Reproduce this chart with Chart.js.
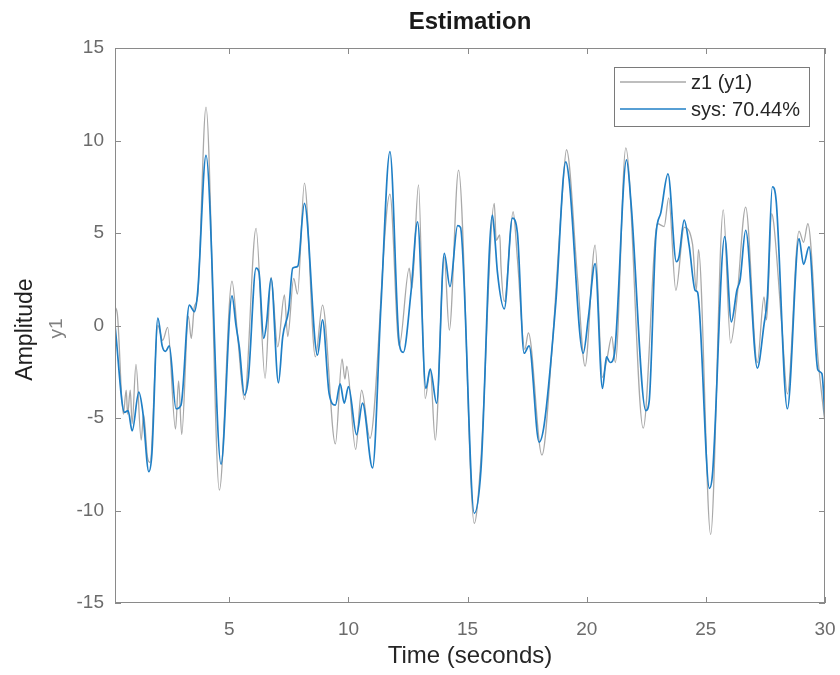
<!DOCTYPE html>
<html>
<head>
<meta charset="utf-8">
<script src="https://cdn.jsdelivr.net/npm/chart.js@4.4.1/dist/chart.umd.min.js"></script>
<style>
    html, body { margin: 0; padding: 0; background: #ffffff; }
    canvas { display: block; }
</style>
</head>
<body>
<canvas id="estChart" width="840" height="675"></canvas>
<script>
/* ==================================================
   Estimation — 測定出力 vs モデル出力
   ================================================== */

// 測定データ z1 (y1)
const zTime = [0.2, 0.3, 0.55, 0.67, 0.73, 0.84, 0.92, 1.08, 1.3, 1.4, 1.56, 1.67, 2.0, 2.2, 2.41, 2.74, 2.87, 3.0, 3.28, 3.4,
    3.53, 3.67, 4.02, 4.58, 5.11, 5.35, 5.63, 6.12, 6.5, 6.75, 7.03, 7.31, 7.45, 7.7, 7.86, 8.15, 8.61, 8.91, 9.45, 9.73,
    9.85, 9.93, 10.3, 10.55, 10.9, 11.74, 12.13, 12.55, 12.66, 12.94, 13.22, 13.43, 13.64, 14.02, 14.23, 14.62, 15.28, 15.56, 16.12, 16.2,
    16.35, 16.4, 16.54, 16.91, 17.09, 17.4, 17.55, 18.12, 18.53, 18.98, 19.15, 19.61, 19.93, 20.35, 20.66, 20.85, 21.05, 21.2, 21.64, 22.37,
    22.97, 23.25, 23.44, 23.74, 24.09, 24.44, 24.6, 24.69, 25.2, 25.73, 26.04, 26.3, 26.67, 27.16, 27.44, 27.55, 27.76, 27.85, 28.2, 28.42,
    28.91, 29.1, 29.28, 29.7, 30.0];
const zValue = [1.0, 0.6, -4.8, -3.5, -4.8, -3.5, -5.3, -2.1, -6.2, -4.8, -7.1, -7.4, 0.0, -0.8, -0.1, -5.6, -3.0, -5.9, 0.5, -0.7,
    1.0, 1.6, 11.8, -8.9, 2.4, -0.6, -4.0, 5.25, -2.85, 2.6, -1.15, 1.65, -0.6, 2.55, 1.7, 7.7, -1.7, 1.1, -6.4, -1.8,
    -2.9, -2.2, -6.7, -3.5, -6.1, 7.1, -1.1, 3.1, 2.0, 7.6, -3.95, -2.35, -6.2, 3.7, -0.25, 8.4, -10.7, -7.2, 6.6, 4.6,
    4.9, 3.2, 1.3, 6.15, 3.6, -1.3, -0.4, -7.0, -1.5, 7.2, 9.5, 2.6, -2.2, 4.35, -2.8, -1.8, -0.6, -2.0, 9.6, -5.55,
    5.5, 5.35, 6.9, 1.9, 5.3, 4.4, 1.9, 4.1, -11.3, 6.25, -0.95, 1.4, 6.4, -2.0, 1.55, 0.3, 6.05, 5.5, -0.25, -3.7,
    5.1, 4.5, 5.5, -1.7, -5.3];

// モデル出力 sys
const sysTime = [0.2, 0.6, 0.75, 0.92, 1.2, 1.36, 1.62, 1.75, 2.0, 2.18, 2.32, 2.48, 2.76, 2.97, 3.32, 3.53, 3.67, 4.02, 4.65, 5.11,
    5.28, 5.42, 5.63, 5.8, 6.12, 6.24, 6.44, 6.56, 6.75, 7.06, 7.24, 7.49, 7.66, 7.87, 8.15, 8.7, 8.91, 9.19, 9.45, 9.65,
    9.82, 10.0, 10.34, 10.59, 11.01, 11.36, 11.74, 12.13, 12.3, 12.62, 12.9, 13.25, 13.43, 13.7, 14.02, 14.26, 14.58, 14.7, 15.28, 15.56,
    16.04, 16.15, 16.25, 16.54, 16.88, 17.09, 17.37, 17.58, 18.0, 18.22, 18.7, 19.12, 19.26, 19.85, 20.07, 20.35, 20.66, 20.83, 20.98, 21.16,
    21.67, 21.86, 22.48, 22.62, 22.9, 23.11, 23.41, 23.76, 23.87, 24.09, 24.3, 24.55, 24.65, 25.15, 25.28, 25.79, 26.07, 26.3, 26.44, 26.67,
    27.16, 27.44, 27.58, 27.79, 27.95, 28.42, 28.91, 29.1, 29.33, 29.7, 29.87, 30.0];
const sysValue = [0.0, -4.7, -4.6, -5.7, -3.6, -4.6, -7.9, -6.9, 0.4, -1.1, -1.4, -1.1, -4.5, -4.3, 1.1, 0.75, 1.8, 9.2, -7.5, 1.6,
    0.0, -1.2, -3.75, -2.8, 3.1, 2.9, -0.7, 0.1, 2.55, -3.1, -0.6, 0.85, 3.1, 3.2, 6.6, -1.6, 0.3, -3.7, -4.3, -3.15,
    -4.2, -3.3, -5.9, -4.2, -7.7, 1.0, 9.4, -0.95, -1.45, 1.75, 5.6, -3.4, -2.35, -4.2, 3.9, 2.1, 5.4, 5.3, -10.15, -7.8,
    5.97, 4.6, 2.9, 0.9, 5.8, 5.0, -1.5, -1.1, -6.3, -5.3, 1.2, 8.85, 7.9, -1.5, 0.45, 3.35, -3.4, -1.7, -2.0, -1.55,
    8.95, 6.6, -4.6, -4.1, 4.8, 6.1, 8.2, 3.45, 3.7, 5.7, 4.3, 1.9, 1.8, -8.8, -8.0, 4.8, 0.2, 1.9, 2.5, 5.15,
    -2.3, 0.05, 1.5, 7.5, 6.75, -4.5, 4.7, 3.3, 4.25, -2.4, -2.6, -5.0];

// 目盛り
const xTicks = [5, 10, 15, 20, 25, 30];
const yTicks = [-15, -10, -5, 0, 5, 10, 15];

const seriesLabels = ['z1 (y1)', 'sys: 70.44%'];
const titleText = 'Estimation';
const xLabel = 'Time (seconds)';
const yLabel = 'Amplitude';
const yChannel = 'y1';

const FONT = "'Liberation Sans', Arial, Helvetica, sans-serif";
const AXIS_COLOR = '#8a8a8a';
const TICK_TEXT = '#6b6b6b';

const toPoints = (ts, vs) => ts.map((t, i) => ({ x: t, y: vs[i] }));

/**
 * タイトル・枠線・内向き目盛り・y軸ラベル・凡例を描く
 */
const matlabFrame = {
    id: 'matlabFrame',
    afterDraw(chart) {
        const { ctx, chartArea: a, scales } = chart;
        const midX = (a.left + a.right) / 2;
        const midY = (a.top + a.bottom) / 2;
        ctx.save();

        // タイトル (プロット領域の中央)
        ctx.textAlign = 'center';
        ctx.textBaseline = 'middle';
        ctx.fillStyle = '#1a1a1a';
        ctx.font = `bold 24px ${FONT}`;
        ctx.fillText(titleText, midX, 22);

        // 枠
        ctx.strokeStyle = AXIS_COLOR;
        ctx.lineWidth = 1;
        ctx.strokeRect(Math.round(a.left) + 0.5, Math.round(a.top) + 0.5,
            Math.round(a.right - a.left) - 1, Math.round(a.bottom - a.top) - 1);

        // 内向き目盛り
        const len = 6;
        ctx.beginPath();
        xTicks.forEach(v => {
            const px = Math.round(scales.x.getPixelForValue(v)) + 0.5;
            ctx.moveTo(px, a.bottom); ctx.lineTo(px, a.bottom - len);
            ctx.moveTo(px, a.top); ctx.lineTo(px, a.top + len);
        });
        yTicks.forEach(v => {
            const py = Math.round(scales.y.getPixelForValue(v)) + 0.5;
            ctx.moveTo(a.left, py); ctx.lineTo(a.left + len, py);
            ctx.moveTo(a.right, py); ctx.lineTo(a.right - len, py);
        });
        ctx.stroke();

        // y軸ラベル (2色)
        ctx.save();
        ctx.translate(26, midY + 4);
        ctx.rotate(-Math.PI / 2);
        ctx.fillStyle = '#1f1f1f';
        ctx.font = `23px ${FONT}`;
        ctx.fillText(yLabel, 0, 0);
        ctx.restore();
        ctx.save();
        ctx.translate(57, midY + 3);
        ctx.rotate(-Math.PI / 2);
        ctx.fillStyle = '#808080';
        ctx.font = `19px ${FONT}`;
        ctx.fillText(yChannel, 0, 0);
        ctx.restore();

        // 凡例
        const box = { x: 614.5, y: 67.5, w: 195, h: 59 };
        ctx.fillStyle = '#ffffff';
        ctx.fillRect(box.x, box.y, box.w, box.h);
        ctx.strokeStyle = '#7a7a7a';
        ctx.lineWidth = 1;
        ctx.strokeRect(box.x, box.y, box.w, box.h);
        ctx.textAlign = 'left';
        ctx.font = `20px ${FONT}`;
        chart.data.datasets.forEach((ds, i) => {
            const rowY = 82 + i * 27;
            ctx.strokeStyle = ds.borderColor;
            ctx.lineWidth = ds.borderWidth;
            ctx.beginPath();
            ctx.moveTo(620, rowY);
            ctx.lineTo(686, rowY);
            ctx.stroke();
            ctx.fillStyle = '#262626';
            ctx.fillText(ds.label, 691, rowY + 1);
        });

        ctx.restore();
    }
};

new Chart(document.getElementById('estChart').getContext('2d'), {
    type: 'line',
    data: {
        datasets: [
            {
                label: seriesLabels[0],
                data: toPoints(zTime, zValue),
                borderColor: '#a9a9a9',
                borderWidth: 1.3,
                pointRadius: 0,
                cubicInterpolationMode: 'monotone',
                fill: false,
                order: 2
            },
            {
                label: seriesLabels[1],
                data: toPoints(sysTime, sysValue),
                borderColor: '#1f7fc6',
                borderWidth: 1.7,
                pointRadius: 0,
                cubicInterpolationMode: 'monotone',
                fill: false,
                order: 1
            }
        ]
    },
    options: {
        responsive: false,
        animation: false,
        layout: { padding: { top: 48, right: 15, bottom: 0, left: 0 } },
        plugins: {
            legend: { display: false },
            tooltip: { enabled: false },
            title: { display: false }
        },
        scales: {
            x: {
                type: 'linear',
                min: 0.2,
                max: 30,
                afterBuildTicks: s => { s.ticks = xTicks.map(v => ({ value: v })); },
                afterFit: s => { s.height = 72; s.paddingLeft = 0; s.paddingRight = 0; },
                grid: { display: false, drawTicks: false },
                border: { display: false },
                ticks: {
                    color: TICK_TEXT,
                    font: { family: FONT, size: 19 },
                    padding: 15,
                    maxRotation: 0
                },
                title: {
                    display: true,
                    text: xLabel,
                    color: '#262626',
                    font: { family: FONT, size: 24 },
                    padding: { top: 0, bottom: 4 }
                }
            },
            y: {
                min: -15,
                max: 15,
                afterBuildTicks: s => { s.ticks = yTicks.map(v => ({ value: v })); },
                afterFit: s => { s.width = 115; },
                grid: { display: false, drawTicks: false },
                border: { display: false },
                ticks: {
                    color: TICK_TEXT,
                    font: { family: FONT, size: 19 },
                    padding: 11
                }
            }
        }
    },
    plugins: [matlabFrame]
});
</script>
</body>
</html>
